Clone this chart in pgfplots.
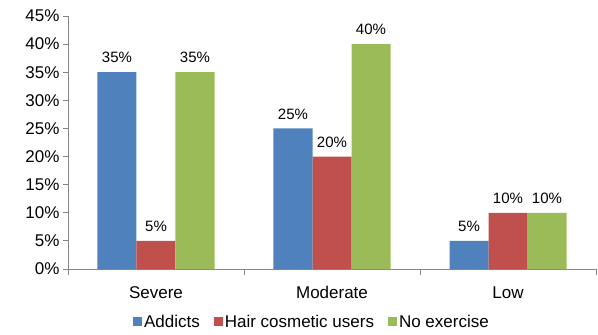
\documentclass[border=0pt]{standalone}
\usepackage{fontspec}
\setmainfont{Liberation Sans}
\usepackage{pgfplots}
\pgfplotsset{compat=1.18}

\definecolor{cblue}{HTML}{4F81BD}
\definecolor{cred}{HTML}{C0504D}
\definecolor{cgreen}{HTML}{9BBB59}
\definecolor{axisgray}{HTML}{868686}

\begin{document}
\begin{tikzpicture}
\useasboundingbox (-68pt,-66pt) rectangle (530pt,269pt);
\begin{axis}[
  scale only axis,
  width=528pt, height=253pt,
  at={(0pt,0pt)}, anchor=south west,
  xmin=-0.5, xmax=2.5,
  ymin=0, ymax=45,
  ybar=0pt, bar width=39pt,
  axis x line*=bottom, axis y line*=left,
  axis line style={draw=axisgray, line width=0.8pt},
  xtick={0,1,2},
  xticklabels={Severe,Moderate,Low},
  minor xtick={-0.5,0.5,1.5,2.5},
  major x tick style={draw=none},
  minor x tick style={draw=axisgray, line width=0.8pt},
  minor tick length=6pt,
  ytick={0,5,...,45},
  ytick style={draw=axisgray, line width=0.8pt},
  major tick length=5pt,
  tick align=outside,
  /pgf/number format/assume math mode=true,
  yticklabel={\pgfmathprintnumber{\tick}\%},
  ticklabel style={font=\fontsize{17}{20}\selectfont},
  xticklabel style={yshift=-9pt},
  nodes near coords={\pgfmathprintnumber{\pgfplotspointmeta}\%},
  every node near coord/.append style={font=\fontsize{15}{18}\selectfont, anchor=south, inner sep=0pt, yshift=9pt, black},
  legend columns=3,
  legend cell align=left,
  legend style={at={(0.462,-0.208)}, anchor=center, draw=none,
    font=\fontsize{17}{20}\selectfont,
    /tikz/every even column/.append style={column sep=12pt},
    nodes={inner xsep=2pt}},
  legend image code/.code={\fill[#1,draw=none] (0pt,-4.5pt) rectangle (9pt,4.5pt);},
]
\addplot[fill=cblue, draw=none] coordinates {(0,35) (1,25) (2,5)};
\addplot[fill=cred, draw=none] coordinates {(0,5) (1,20) (2,10)};
\addplot[fill=cgreen, draw=none] coordinates {(0,35) (1,40) (2,10)};
\legend{Addicts, Hair cosmetic users, No exercise}
\end{axis}
\end{tikzpicture}
\end{document}
